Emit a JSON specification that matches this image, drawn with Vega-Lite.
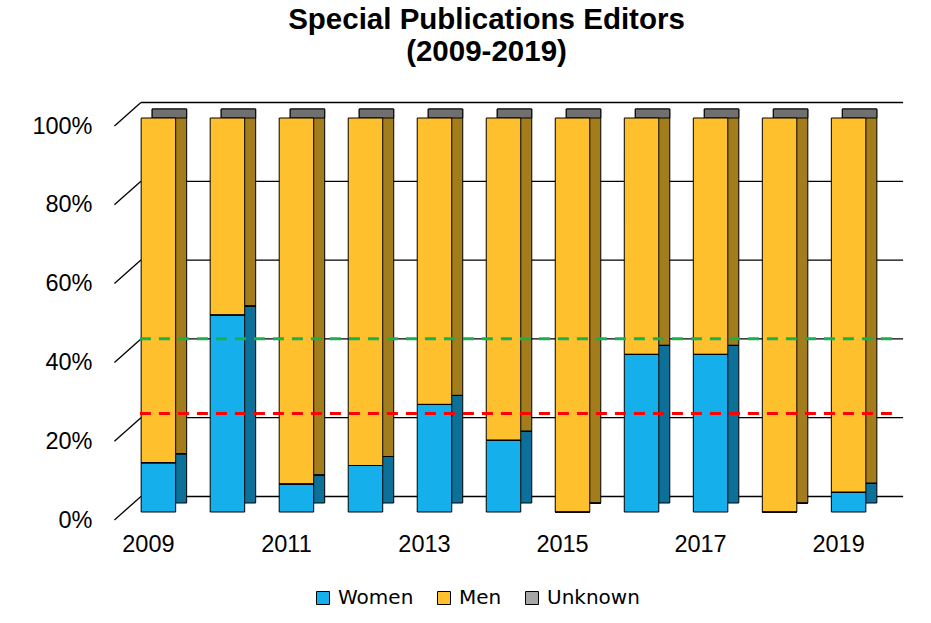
{
  "$schema": "https://vega.github.io/schema/vega-lite/v6.json",
  "width": 773,
  "height": 394,
  "autosize": {"type": "none"},
  "padding": {"left": 117, "top": 118, "right": 41, "bottom": 111},
  "background": "white",
  "config": {
    "view": {"stroke": null},
    "font": "Liberation Sans",
    "axisX": {
      "labelAngle": 0, "domain": false, "ticks": false, "grid": false,
      "labelFont": "Liberation Sans", "labelFontSize": 23.5, "labelColor": "black",
      "labelPadding": 20, "labelOffset": -10, "labelOverlap": false
    },
    "axisY": {
      "domain": false, "ticks": false, "grid": false,
      "labelFont": "Liberation Sans", "labelFontSize": 23.5, "labelColor": "black",
      "labelPadding": 25, "labelOffset": 8
    }
  },
  "title": {
    "text": ["Special Publications Editors", "(2009-2019)"],
    "font": "Liberation Sans",
    "fontSize": 29.5,
    "fontWeight": "bold",
    "color": "black",
    "anchor": "middle",
    "dx": -17,
    "offset": 34,
    "lineHeight": 32
  },
  "datasets": {
    "editors": [
      {"year": "2009", "sex": "Women", "pct": 12.5}, {"year": "2009", "sex": "Men", "pct": 87.5}, {"year": "2009", "sex": "Unknown", "pct": 0},
      {"year": "2010", "sex": "Women", "pct": 50}, {"year": "2010", "sex": "Men", "pct": 50}, {"year": "2010", "sex": "Unknown", "pct": 0},
      {"year": "2011", "sex": "Women", "pct": 7.1}, {"year": "2011", "sex": "Men", "pct": 92.9}, {"year": "2011", "sex": "Unknown", "pct": 0},
      {"year": "2012", "sex": "Women", "pct": 11.8}, {"year": "2012", "sex": "Men", "pct": 88.2}, {"year": "2012", "sex": "Unknown", "pct": 0},
      {"year": "2013", "sex": "Women", "pct": 27.3}, {"year": "2013", "sex": "Men", "pct": 72.7}, {"year": "2013", "sex": "Unknown", "pct": 0},
      {"year": "2014", "sex": "Women", "pct": 18.2}, {"year": "2014", "sex": "Men", "pct": 81.8}, {"year": "2014", "sex": "Unknown", "pct": 0},
      {"year": "2015", "sex": "Women", "pct": 0}, {"year": "2015", "sex": "Men", "pct": 100}, {"year": "2015", "sex": "Unknown", "pct": 0},
      {"year": "2016", "sex": "Women", "pct": 40}, {"year": "2016", "sex": "Men", "pct": 60}, {"year": "2016", "sex": "Unknown", "pct": 0},
      {"year": "2017", "sex": "Women", "pct": 40}, {"year": "2017", "sex": "Men", "pct": 60}, {"year": "2017", "sex": "Unknown", "pct": 0},
      {"year": "2018", "sex": "Women", "pct": 0}, {"year": "2018", "sex": "Men", "pct": 100}, {"year": "2018", "sex": "Unknown", "pct": 0},
      {"year": "2019", "sex": "Women", "pct": 5}, {"year": "2019", "sex": "Men", "pct": 95}, {"year": "2019", "sex": "Unknown", "pct": 0}
    ],
    "grid": [{"g": 0}, {"g": 20}, {"g": 40}, {"g": 60}, {"g": 80}, {"g": 100}],
    "targets": [{"line": "green", "v": 44}, {"line": "red", "v": 25}]
  },
  "layer": [
    {
      "data": {"name": "grid"},
      "mark": {"type": "rule", "color": "black", "strokeWidth": 1.3, "xOffset": -17.5, "x2Offset": 54.5, "yOffset": -15.5, "y2Offset": -15.5},
      "encoding": {
        "x": {"datum": "2009", "type": "ordinal", "axis": {"title": null, "labelExpr": "(+datum.value) % 2 == 1 ? datum.label : ''"}},
        "x2": {"datum": "2019"},
        "y": {"field": "g", "type": "quantitative", "scale": {"domain": [0, 100]}, "axis": {"title": null, "values": [0, 20, 40, 60, 80, 100], "labelExpr": "datum.value + '%'"}},
        "y2": {"field": "g"}
      }
    },
    {
      "data": {"name": "grid"},
      "mark": {"type": "rule", "color": "black", "strokeWidth": 1.3, "xOffset": -44, "x2Offset": -17.5, "yOffset": 8, "y2Offset": -15.5},
      "encoding": {
        "x": {"datum": "2009", "type": "ordinal", "axis": {"title": null, "labelExpr": "(+datum.value) % 2 == 1 ? datum.label : ''"}},
        "x2": {"datum": "2009"},
        "y": {"field": "g", "type": "quantitative", "axis": {"title": null, "values": [0, 20, 40, 60, 80, 100], "labelExpr": "datum.value + '%'"}},
        "y2": {"field": "g"}
      }
    },
    {
      "data": {"name": "editors"},
      "mark": {"type": "bar", "stroke": "black", "strokeWidth": 1, "xOffset": 11, "x2Offset": 11, "yOffset": -9, "y2Offset": -9},
      "encoding": {
        "x": {"field": "year", "type": "ordinal", "scale": {"paddingInner": 0.5, "paddingOuter": 0.35}, "axis": {"title": null, "labelExpr": "(+datum.value) % 2 == 1 ? datum.label : ''"}},
        "y": {"field": "pct", "type": "quantitative", "stack": "zero", "axis": {"title": null, "values": [0, 20, 40, 60, 80, 100], "labelExpr": "datum.value + '%'"}},
        "color": {
          "field": "sex", "type": "nominal", "sort": ["Women", "Men", "Unknown"],
          "scale": {"domain": ["Women", "Men", "Unknown"], "range": ["#0C7099", "#A37C1C", "#737373"]},
          "legend": null
        }
      }
    },
    {
      "data": {"name": "editors"},
      "transform": [{"filter": "datum.sex === 'Unknown'"}],
      "mark": {"type": "bar", "color": "#707070", "stroke": "black", "strokeWidth": 1, "xOffset": 11, "x2Offset": 11, "yOffset": -9},
      "encoding": {
        "x": {"field": "year", "type": "ordinal", "axis": {"title": null, "labelExpr": "(+datum.value) % 2 == 1 ? datum.label : ''"}},
        "y": {"datum": 100, "type": "quantitative", "axis": {"title": null, "values": [0, 20, 40, 60, 80, 100], "labelExpr": "datum.value + '%'"}},
        "y2": {"datum": 100}
      }
    },
    {
      "data": {"name": "editors"},
      "mark": {"type": "bar", "stroke": "black", "strokeWidth": 1},
      "encoding": {
        "x": {"field": "year", "type": "ordinal", "axis": {"title": null, "labelExpr": "(+datum.value) % 2 == 1 ? datum.label : ''"}},
        "y": {"field": "pct", "type": "quantitative", "stack": "zero", "axis": {"title": null, "values": [0, 20, 40, 60, 80, 100], "labelExpr": "datum.value + '%'"}},
        "color": {
          "field": "sex", "type": "nominal", "sort": ["Women", "Men", "Unknown"],
          "scale": {"domain": ["Women", "Men", "Unknown"], "range": ["#15B0EB", "#FEC02D", "#A6A6A6"]},
          "legend": {
            "title": null, "orient": "none", "legendX": 196, "legendY": 470,
            "direction": "horizontal", "symbolType": "square", "symbolSize": 169,
            "symbolStrokeColor": "black", "symbolStrokeWidth": 1,
            "labelFont": "DejaVu Sans", "labelFontSize": 20, "labelColor": "black",
            "labelOffset": 5, "columnPadding": 20, "padding": 0
          }
        }
      }
    },
    {
      "data": {"name": "targets"},
      "transform": [{"filter": "datum.line === 'green'"}],
      "mark": {"type": "rule", "color": "#19B04E", "strokeWidth": 3, "strokeDash": [11, 8], "xOffset": -18.5, "x2Offset": 49},
      "encoding": {
        "x": {"datum": "2009", "type": "ordinal", "axis": {"title": null, "labelExpr": "(+datum.value) % 2 == 1 ? datum.label : ''"}},
        "x2": {"datum": "2019"},
        "y": {"field": "v", "type": "quantitative", "axis": {"title": null, "values": [0, 20, 40, 60, 80, 100], "labelExpr": "datum.value + '%'"}},
        "y2": {"field": "v"}
      }
    },
    {
      "data": {"name": "targets"},
      "transform": [{"filter": "datum.line === 'red'"}],
      "mark": {"type": "rule", "color": "#FF0000", "strokeWidth": 3, "strokeDash": [11, 8], "xOffset": -18.5, "x2Offset": 49},
      "encoding": {
        "x": {"datum": "2009", "type": "ordinal", "axis": {"title": null, "labelExpr": "(+datum.value) % 2 == 1 ? datum.label : ''"}},
        "x2": {"datum": "2019"},
        "y": {"field": "v", "type": "quantitative", "axis": {"title": null, "values": [0, 20, 40, 60, 80, 100], "labelExpr": "datum.value + '%'"}},
        "y2": {"field": "v"}
      }
    }
  ],
  "resolve": {"scale": {"color": "independent"}}
}
